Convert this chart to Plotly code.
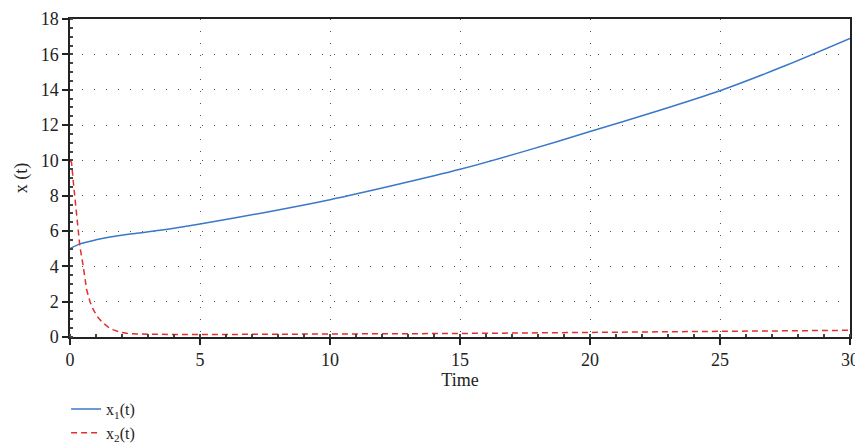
import plotly.graph_objects as go

t1 = [0, 0.38, 1, 1.54, 2.5, 3.46, 5, 7.5, 10, 12.5, 15, 17.5, 20, 22.5, 25, 27.5, 30]
x1 = [5.0, 5.27, 5.5, 5.66, 5.86, 6.04, 6.4, 7.05, 7.77, 8.6, 9.49, 10.52, 11.63, 12.75, 13.94, 15.35, 16.9]

t2 = [0, 0.06, 0.13, 0.26, 0.38, 0.51, 0.64, 0.77, 0.9, 1.08, 1.28, 1.47, 1.67, 1.9, 2.18, 2.6, 3.2, 4, 5, 10, 15, 20, 25, 30]
x2 = [10, 9.87, 8.74, 6.84, 5.13, 4.0, 2.67, 2.0, 1.53, 1.1, 0.78, 0.56, 0.4, 0.29, 0.21, 0.17, 0.15, 0.14, 0.14, 0.16, 0.2, 0.26, 0.31, 0.38]

font_fam = "Liberation Serif"

fig = go.Figure()
fig.add_trace(go.Scatter(x=t1, y=x1, mode="lines", name="x<sub>1</sub>(t)",
                         line=dict(color="#3a78c8", width=1.5, shape="spline", smoothing=0.8)))
fig.add_trace(go.Scatter(x=t2, y=x2, mode="lines", name="x<sub>2</sub>(t)",
                         line=dict(color="#e03030", width=1.5, dash="6px,4px")))

axis_common = dict(
    showline=True, linecolor="#222", linewidth=1.5, mirror=True,
    ticks="outside", ticklen=6, tickcolor="#222", tickwidth=1.5,
    showgrid=True, gridcolor="#555", griddash="1.3px,10.7px", gridwidth=1.3,
    zeroline=False, automargin=False,
    tickfont=dict(family=font_fam, size=18, color="#222"),
)

fig.update_xaxes(range=[0, 30], tickvals=[0, 5, 10, 15, 20, 25, 30],
                 title=dict(text="Time", font=dict(family=font_fam, size=18, color="#222"), standoff=0),
                 minor=dict(ticks="inside", ticklen=3, tickcolor="#444", dtick=1, showgrid=False),
                 **axis_common)
fig.update_yaxes(range=[0, 18], tickvals=[0, 2, 4, 6, 8, 10, 12, 14, 16, 18],
                 title=dict(text="x (t)", font=dict(family=font_fam, size=18, color="#222"), standoff=8),
                 minor=dict(ticks="inside", ticklen=3, tickcolor="#444", dtick=0.5, showgrid=False),
                 **axis_common)

fig.update_layout(
    width=855, height=438,
    margin=dict(l=62, r=13, t=11, b=109),
    plot_bgcolor="white", paper_bgcolor="white",
    showlegend=True,
    legend=dict(x=-0.005, y=0.123, xref="paper", yref="container",
                xanchor="left", yanchor="top",
                font=dict(family=font_fam, size=16, color="#222"),
                tracegroupgap=0, itemwidth=30, bgcolor="rgba(0,0,0,0)"),
)

fig.write_html("out.html")
